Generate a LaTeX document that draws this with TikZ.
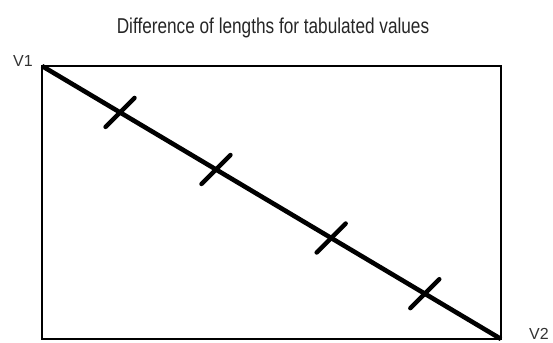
\documentclass[tikz,border=0pt]{standalone}
\usepackage{fontspec}
\setmainfont{Liberation Sans}
\usetikzlibrary{calc}
\begin{document}
\begin{tikzpicture}[x=1pt,y=-1pt,
  frame/.style={draw=black,line width=2.4pt},
  diag/.style={draw=black,line width=4.6pt},
  tickmark/.style={draw=black,line width=4.4pt,line cap=round},
  vlabel/.style={text=black!80,font=\fontsize{16}{16}\selectfont,inner sep=0pt,anchor=base west},
  titlestyle/.style={text=black!85,font=\fontsize{21.5}{22}\selectfont,inner sep=0pt,anchor=base}]
\useasboundingbox (0,0) rectangle (553,342);
\coordinate (V1) at (42,66);
\coordinate (V2) at (501,339);
\draw[frame] (V1) rectangle (V2);
\draw[diag] (V1) -- (V2);
\foreach \t/\n in {0.170/a,0.379/b,0.630/c,0.834/d}{
  \coordinate (\n) at ($(V1)!\t!(V2)$);
  \draw[tickmark] ($(\n)+(-14.5,14.5)$) -- ($(\n)+(14.5,-14.5)$);
}
\node[titlestyle] (title) at (273,34) {\scalebox{0.8}[1]{Difference of lengths for tabulated values}};
\node[vlabel] (l1) at (13,67) {V1};
\node[vlabel] (l2) at (529,339) {V2};
\end{tikzpicture}
\end{document}
